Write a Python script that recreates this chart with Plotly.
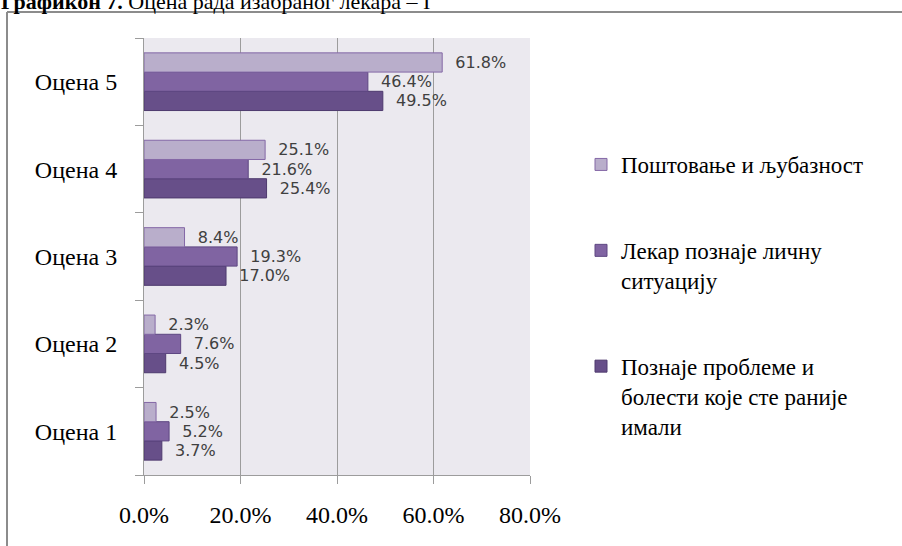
import plotly.graph_objects as go

categories = ["Оцена 1", "Оцена 2", "Оцена 3", "Оцена 4", "Оцена 5"]
series_names = [
    "Поштовање и љубазност",
    "Лекар познаје личну<br>ситуацију",
    "Познаје проблеме и<br>болести које сте раније<br>имали",
]
postovanje = [2.5, 2.3, 8.4, 25.1, 61.8]
licna = [5.2, 7.6, 19.3, 21.6, 46.4]
problemi = [3.7, 4.5, 17.0, 25.4, 49.5]
x_ticks = [0, 20, 40, 60, 80]
x_tick_labels = ["0.0%", "20.0%", "40.0%", "60.0%", "80.0%"]

fills = ["#B9AECB", "#8064A2", "#674F89"]
edges = ["#8468A6", "#5E4782", "#4E3A6E"]

W, H = 902, 546
L, R, T, B = 144, 530, 38, 475

fig = go.Figure()
# plotly stacks grouped horizontal bars bottom-up: add the bottom series first
order = [2, 1, 0]
data = [postovanje, licna, problemi]
for i in order:
    fig.add_trace(go.Bar(
        y=categories, x=data[i], orientation="h", name=series_names[i],
        marker=dict(color=fills[i], line=dict(color=edges[i], width=1)),
        text=["\u00a0\u00a0" + f"{v:.1f}%" for v in data[i]], textposition="outside",
        textfont=dict(family="DejaVu Sans", size=16, color="#404040"),
        cliponaxis=False, legendgroup=str(i), legendrank=i + 1,
    ))

def py(p):
    return (B - p) / (B - T)

def px(p):
    return (p - L) / (R - L)

fig.update_layout(
    width=W, height=H,
    margin=dict(l=L, r=W - R, t=T, b=H - B, pad=0),
    paper_bgcolor="white", plot_bgcolor="#EBE9EF",
    barmode="group", bargap=0.34, bargroupgap=0,
    font=dict(family="Liberation Serif", size=20, color="#000000"),
    showlegend=True,
    legend=dict(
        x=px(581), y=py(143), xanchor="left", yanchor="top",
        traceorder="grouped", tracegroupgap=53, valign="top",
        font=dict(family="Liberation Serif", size=23, color="#000000"),
        bgcolor="rgba(0,0,0,0)", itemwidth=30,
    ),
    xaxis=dict(
        range=[0, 80], tickvals=x_ticks, ticktext=x_tick_labels,
        showgrid=True, gridcolor="#9C9C9C", gridwidth=1,
        showline=True, linecolor="#9C9C9C", linewidth=1,
        ticks="outside", ticklen=8, tickcolor="#9C9C9C",
        tickfont=dict(family="Liberation Serif", size=24),
        ticklabelstandoff=10, zeroline=False,
    ),
    yaxis=dict(
        range=[-0.5, 4.5], showgrid=False,
        showline=True, linecolor="#9C9C9C", linewidth=1,
        ticks="outside", ticklen=8, tickcolor="#9C9C9C", tickson="boundaries",
        tickfont=dict(family="Liberation Serif", size=24),
        ticklabelstandoff=21,
    ),
    shapes=[
        dict(type="line", xref="paper", yref="paper",
             x0=px(7), x1=px(7), y0=py(H + 5), y1=py(12),
             line=dict(color="#8C8C8C", width=2)),
        dict(type="line", xref="paper", yref="paper",
             x0=px(7), x1=px(W + 5), y0=py(12), y1=py(12),
             line=dict(color="#8C8C8C", width=2)),
    ],
    annotations=[
        dict(xref="paper", yref="paper", x=px(-1), y=py(16),
             xanchor="left", yanchor="bottom", showarrow=False,
             text="<b>Графикон 7.</b> Оцена рада изабраног лекара – I",
             font=dict(family="Liberation Serif", size=22, color="#000000")),
    ],
)

fig.write_html("out.html", config={"displayModeBar": False},
               post_script="document.body.style.margin='0px';")
